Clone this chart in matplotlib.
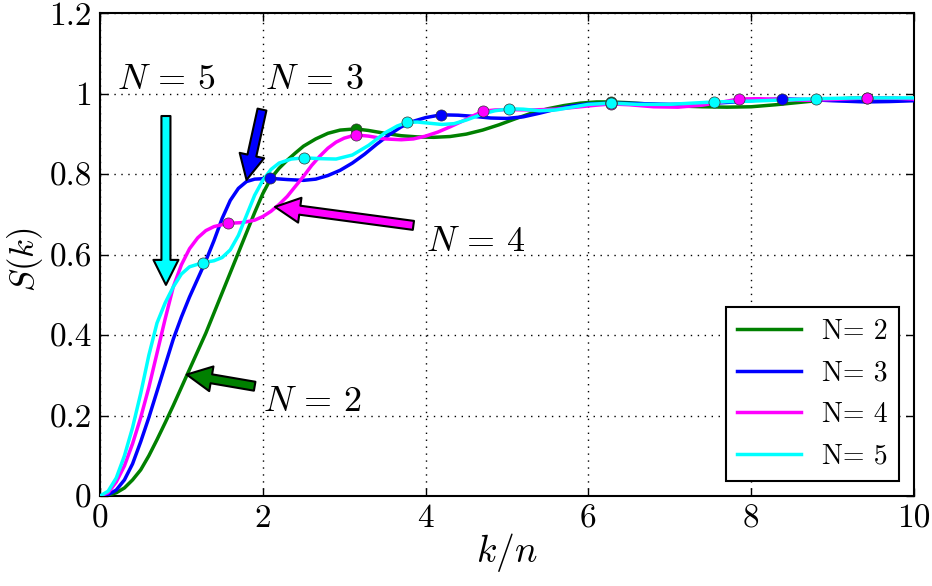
"""
Static structure factor S(k) for N = 2..5, plotted against k/n.
"""
import matplotlib
matplotlib.use("Agg")
import matplotlib.pyplot as plt

# ── Data ─────────────────────────────────────────────────────────────────────
x_n2 = [0, 0.1, 0.2, 0.3, 0.4, 0.5, 0.6, 0.7, 0.8, 0.9, 1.0, 1.1, 1.2, 1.3,
        1.4, 1.5, 1.6, 1.7, 1.8, 1.9, 2.0, 2.1, 2.2, 2.3, 2.4, 2.5, 2.65, 2.8,
        2.95, 3.14, 3.3, 3.5, 3.7, 3.9, 4.1, 4.3, 4.5, 4.7, 4.9, 5.1, 5.3, 5.5,
        5.7, 5.9, 6.1, 6.28, 6.5, 6.8, 7.1, 7.4, 7.7, 8.0, 8.3, 8.6, 8.9, 9.2,
        9.42, 9.7, 10]
s_n2 = [0, 0.002, 0.008, 0.02, 0.04, 0.065, 0.1, 0.14, 0.182, 0.225, 0.27,
        0.315, 0.36, 0.405, 0.455, 0.505, 0.555, 0.605, 0.655, 0.705, 0.752,
        0.79, 0.815, 0.835, 0.853, 0.87, 0.888, 0.902, 0.91, 0.913, 0.909,
        0.902, 0.896, 0.893, 0.892, 0.894, 0.9, 0.91, 0.923, 0.938, 0.952,
        0.963, 0.971, 0.977, 0.98, 0.98, 0.978, 0.974, 0.97, 0.968, 0.967,
        0.968, 0.973, 0.979, 0.985, 0.989, 0.99, 0.989, 0.987]

x_n3 = [0, 0.1, 0.2, 0.3, 0.4, 0.5, 0.6, 0.7, 0.8, 0.9, 1.0, 1.1, 1.2, 1.3,
        1.4, 1.5, 1.6, 1.7, 1.8, 1.9, 2.09, 2.3, 2.5, 2.65, 2.8, 2.95, 3.1,
        3.25, 3.4, 3.55, 3.7, 3.85, 4.0, 4.19, 4.4, 4.6, 4.8, 5.0, 5.2, 5.4,
        5.6, 5.8, 6.0, 6.28, 6.6, 7.0, 7.4, 7.8, 8.1, 8.38, 8.7, 9.0, 9.4, 9.7,
        10]
s_n3 = [0, 0.003, 0.015, 0.04, 0.08, 0.135, 0.195, 0.26, 0.325, 0.39, 0.445,
        0.495, 0.54, 0.585, 0.635, 0.69, 0.735, 0.765, 0.782, 0.788, 0.79,
        0.787, 0.785, 0.788, 0.797, 0.81, 0.828, 0.85, 0.875, 0.898, 0.918,
        0.932, 0.941, 0.948, 0.947, 0.944, 0.94, 0.939, 0.943, 0.952, 0.962,
        0.97, 0.975, 0.977, 0.976, 0.974, 0.975, 0.98, 0.985, 0.9875, 0.986,
        0.983, 0.98, 0.981, 0.983]

x_n4 = [0, 0.1, 0.2, 0.3, 0.4, 0.5, 0.6, 0.7, 0.8, 0.9, 1.0, 1.1, 1.2, 1.3,
        1.4, 1.57, 1.75, 1.9, 2.0, 2.1, 2.2, 2.3, 2.4, 2.5, 2.6, 2.7, 2.8, 2.9,
        3.0, 3.14, 3.3, 3.5, 3.7, 3.85, 4.0, 4.15, 4.3, 4.45, 4.6, 4.71, 4.85,
        5.0, 5.3, 5.6, 5.9, 6.1, 6.28, 6.5, 6.8, 7.1, 7.4, 7.6, 7.85, 8.1, 8.4,
        8.7, 9.0, 9.42, 9.8, 10]
s_n4 = [0, 0.008, 0.035, 0.075, 0.13, 0.195, 0.27, 0.355, 0.44, 0.52, 0.575,
        0.615, 0.642, 0.66, 0.67, 0.678, 0.68, 0.686, 0.695, 0.708, 0.725,
        0.745, 0.77, 0.795, 0.822, 0.845, 0.865, 0.88, 0.89, 0.898, 0.895,
        0.888, 0.886, 0.888, 0.895, 0.905, 0.918, 0.932, 0.947, 0.957, 0.96,
        0.961, 0.96, 0.962, 0.968, 0.972, 0.975, 0.973, 0.968, 0.967, 0.972,
        0.978, 0.9875, 0.988, 0.986, 0.984, 0.986, 0.99, 0.989, 0.987]

x_n5 = [0, 0.1, 0.2, 0.3, 0.4, 0.5, 0.6, 0.7, 0.8, 0.9, 1.0, 1.1, 1.26, 1.4,
        1.5, 1.6, 1.7, 1.8, 1.9, 2.0, 2.1, 2.2, 2.35, 2.51, 2.7, 2.9, 3.1, 3.3,
        3.5, 3.65, 3.77, 3.9, 4.05, 4.2, 4.35, 4.5, 4.7, 4.85, 5.03, 5.2, 5.4,
        5.6, 5.8, 6.0, 6.28, 6.6, 7.0, 7.54, 8.0, 8.4, 8.8, 9.3, 10]
s_n5 = [0, 0.012, 0.045, 0.1, 0.17, 0.255, 0.35, 0.43, 0.48, 0.52, 0.552,
        0.57, 0.58, 0.585, 0.593, 0.612, 0.648, 0.698, 0.748, 0.785, 0.812,
        0.828, 0.838, 0.841, 0.839, 0.838, 0.848, 0.872, 0.903, 0.92, 0.929,
        0.93, 0.927, 0.924, 0.926, 0.935, 0.95, 0.958, 0.963, 0.962, 0.958,
        0.96, 0.967, 0.974, 0.977, 0.974, 0.974, 0.98, 0.982, 0.985, 0.988,
        0.99, 0.99]

# marked points on each curve
mx_n2 = [3.14, 6.28, 9.42]
my_n2 = [0.913, 0.98, 0.99]
mx_n3 = [2.09, 4.19, 6.28, 8.38]
my_n3 = [0.79, 0.948, 0.977, 0.9875]
mx_n4 = [1.57, 3.14, 4.71, 6.28, 7.85, 9.42]
my_n4 = [0.678, 0.898, 0.957, 0.975, 0.9875, 0.99]
mx_n5 = [1.26, 2.51, 3.77, 5.03, 6.28, 7.54, 8.80]
my_n5 = [0.58, 0.841, 0.929, 0.963, 0.977, 0.98, 0.988]

labels = ["N= 2", "N= 3", "N= 4", "N= 5"]
colors = ["#008000", "#0000ff", "#ff00ff", "#00ffff"]

x_ticks = [0, 2, 4, 6, 8, 10]
y_ticks = [0, 0.2, 0.4, 0.6, 0.8, 1.0, 1.2]
y_tick_labels = ["0", "0.2", "0.4", "0.6", "0.8", "1", "1.2"]

# ── Style ────────────────────────────────────────────────────────────────────
plt.rcParams["font.family"] = "serif"
plt.rcParams["font.serif"] = ["cmr10"]
plt.rcParams["mathtext.fontset"] = "cm"
plt.rcParams["axes.unicode_minus"] = False

fig = plt.figure(figsize=(9.32, 5.86), dpi=100)
ax = fig.add_axes([0.1073, 0.1536, 0.8734, 0.8234])

curves = [(x_n2, s_n2, mx_n2, my_n2),
          (x_n3, s_n3, mx_n3, my_n3),
          (x_n4, s_n4, mx_n4, my_n4),
          (x_n5, s_n5, mx_n5, my_n5)]

for (xs, ys, mxs, mys), lab, col in zip(curves, labels, colors):
    ax.plot(xs, ys, color=col, lw=2.5, label=lab, zorder=3)
    ax.plot(mxs, mys, "o", color=col, ms=8, mec="#333333", mew=0.5, zorder=4)

# ── Arrows + labels ──────────────────────────────────────────────────────────
arrows = [  # (tip, tail, colour)
    ((0.81, 0.525), (0.81, 0.945), colors[3]),
    ((1.80, 0.786), (1.99, 0.961), colors[1]),
    ((2.15, 0.719), (3.85, 0.673), colors[2]),
    ((1.065, 0.302), (1.90, 0.273), colors[0]),
]
for tip, tail, col in arrows:
    ax.annotate("", xy=tip, xytext=tail,
                arrowprops=dict(facecolor=col, edgecolor="k", lw=1.5,
                                width=6.5, headwidth=18, headlength=18,
                                shrink=0.0),
                zorder=5)

ax.text(0.81, 1.035, r"$N\,=\,5$", fontsize=26, ha="center", va="center")
ax.text(2.64, 1.035, r"$N\,=\,3$", fontsize=26, ha="center", va="center")
ax.text(4.62, 0.63, r"$N\,=\,4$", fontsize=26, ha="center", va="center")
ax.text(2.61, 0.2325, r"$N\,=\,2$", fontsize=26, ha="center", va="center")

# ── Axes ─────────────────────────────────────────────────────────────────────
ax.set_xlim(0, 10)
ax.set_ylim(0, 1.2)
ax.set_xticks(x_ticks)
ax.set_xticklabels([str(t) for t in x_ticks])
ax.set_yticks(y_ticks)
ax.set_yticklabels(y_tick_labels)
ax.tick_params(direction="in", top=True, right=True, length=6, width=1,
               labelsize=24, pad=6)
for sp in ax.spines.values():
    sp.set_linewidth(1.5)
ax.grid(True, color="k", linestyle=(0, (1, 4)), linewidth=1)
ax.set_axisbelow(True)

ax.set_xlabel("$k/n$", fontsize=27)
ax.set_ylabel("$S(k)$", fontsize=25)
ax.xaxis.set_label_coords(0.5, -0.072)
ax.yaxis.set_label_coords(-0.068, 0.49)

leg = ax.legend(loc="lower right", fontsize=20, handlelength=2.3,
                borderaxespad=0.55, fancybox=False, labelspacing=0.55,
                handletextpad=0.75, borderpad=0.4)
leg.get_frame().set_edgecolor("k")
leg.get_frame().set_linewidth(1.5)
leg.get_frame().set_alpha(1)

fig.savefig("out.png", dpi=100)
